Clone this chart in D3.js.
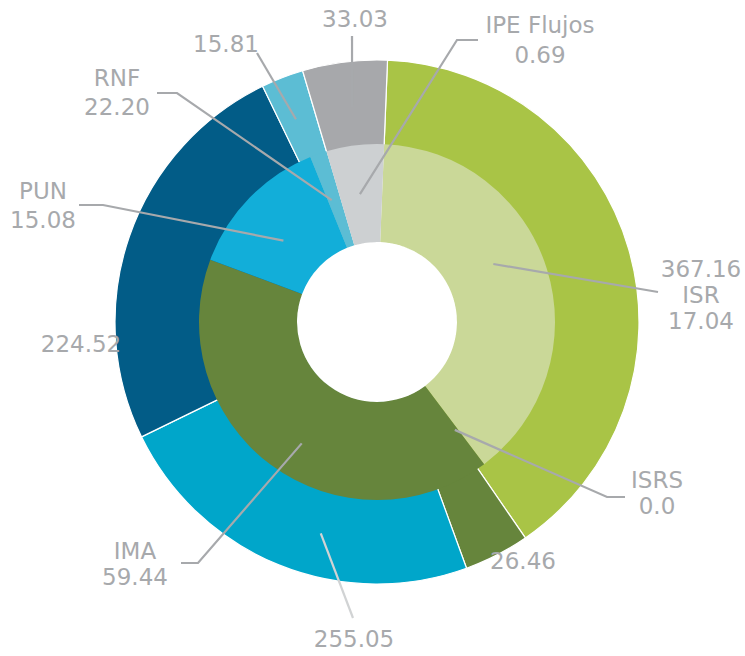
<!DOCTYPE html>
<html>
<head>
<meta charset="utf-8">
<script src="https://cdn.jsdelivr.net/npm/d3@7"></script>
<style>
    body { margin: 0; background: #fff; }
    svg { display: block; }
    text { font-family: "DejaVu Sans", sans-serif; font-size: 23px; fill: #a7a9ac; }
</style>
</head>
<body>
<div id="chart"></div>
<script>
// outer ring: printed values, and the share (%) each slice takes in the picture
const outerLabels = ['367.16', '26.46', '255.05', '224.52', '15.81', '33.03'];
const outerShares = [39.78, 4.03, 23.33, 25.03, 2.61, 5.22];
const outerColors = ['#a9c446', '#66853c', '#00a6ca', '#025c87', '#5cbdd4', '#a7a8ab'];

// inner ring
const innerNames = ['ISR', 'ISRS', 'IMA', 'PUN', 'RNF', 'IPE Flujos'];
const innerLabels = ['17.04', '0.0', '59.44', '15.08', '22.20', '0.69'];
const innerShares = [39.08, 0, 40.97, 13.19, 1.53, 5.22];
const innerColors = ['#cad898', '#66853c', '#66853c', '#12aed9', '#5cbdd4', '#cdd0d2'];

const width = 745;
const height = 656;
const cx = 377, cy = 322;
const rOuter = 262, rMid = 178, rHole = 80;
const start = 2.3 * Math.PI / 180;

const svg = d3.select('#chart')
    .append('svg')
    .attr('width', width)
    .attr('height', height);

const pie = d3.pie()
    .sort(null)
    .value((d) => d.share)
    .startAngle(start)
    .endAngle(start + 2 * Math.PI);

const outerData = outerShares.map((s, i) => ({ share: s, color: outerColors[i] }));
const innerData = innerShares.map((s, i) => ({ share: s, color: innerColors[i] }));

const g = svg.append('g').attr('transform', `translate(${cx},${cy})`);

// outer pie goes under the inner ring
const outerArc = d3.arc().innerRadius(rHole).outerRadius(rOuter);
g.append('g')
    .selectAll('path')
    .data(pie(outerData))
    .join('path')
    .attr('d', outerArc)
    .attr('fill', (d) => d.data.color)
    .attr('stroke', '#fff')
    .attr('stroke-width', 1.2);

const innerArc = d3.arc().innerRadius(rHole).outerRadius(rMid);
g.append('g')
    .selectAll('path')
    .data(pie(innerData).filter((d) => d.data.share > 0))
    .join('path')
    .attr('d', innerArc)
    .attr('fill', (d) => d.data.color);

// labels: text lines, their centre x and baselines, leader line (outer points + polar anchor)
function polar(angleDeg, r) {
    const a = angleDeg * Math.PI / 180;
    return [cx + r * Math.sin(a), cy - r * Math.cos(a)];
}

const labels = [
    { lines: [outerLabels[0], innerNames[0], innerLabels[0]], x: 701, y: [277, 303, 329],
      path: [[658, 292]], anchor: [63.5, 130] },
    { lines: [innerNames[1], innerLabels[1]], x: 657, y: [488, 514],
      path: [[625, 497], [607, 497]], anchor: [144.2, 133] },
    { lines: [outerLabels[1]], x: 523, y: [569] },
    { lines: [outerLabels[2]], x: 354, y: [647],
      path: [[353, 618]], anchor: [194.9, 218.7], light: true },
    { lines: [innerNames[2], innerLabels[2]], x: 135, y: [559, 585],
      path: [[181, 563], [198, 563]], anchor: [211.8, 142.8] },
    { lines: [outerLabels[3]], x: 81, y: [352] },
    { lines: [innerNames[3], innerLabels[3]], x: 43, y: [199, 228],
      path: [[79, 205], [103, 205]], anchor: [311, 124] },
    { lines: [innerNames[4], innerLabels[4]], x: 117, y: [86, 115],
      path: [[157, 93], [177, 93]], anchor: [339.6, 130] },
    { lines: [outerLabels[4]], x: 226, y: [52],
      path: [[257, 53]], anchor: [338.2, 218.3] },
    { lines: [outerLabels[5]], x: 355, y: [27],
      path: [[352, 36]], anchor: [353.4, 216.4] },
    { lines: [innerNames[5], innerLabels[5]], x: 540, y: [33, 63],
      path: [[478, 40], [457, 40]], anchor: [352.4, 129] },
];

const line = d3.line();
const leaders = svg.append('g').attr('class', 'leaders');
labels.filter((d) => d.path).forEach((d) => {
    leaders.append('path')
        .attr('d', line([...d.path, polar(...d.anchor)]))
        .attr('fill', 'none')
        .attr('stroke', d.light ? '#d1d3d4' : '#a7a9ac')
        .attr('stroke-width', 2.2);
});

const texts = svg.append('g').attr('class', 'labels');
labels.forEach((d) => {
    d.lines.forEach((t, i) => {
        texts.append('text')
            .attr('x', d.x)
            .attr('y', d.y[i])
            .attr('text-anchor', 'middle')
            .text(t);
    });
});
</script>
</body>
</html>
